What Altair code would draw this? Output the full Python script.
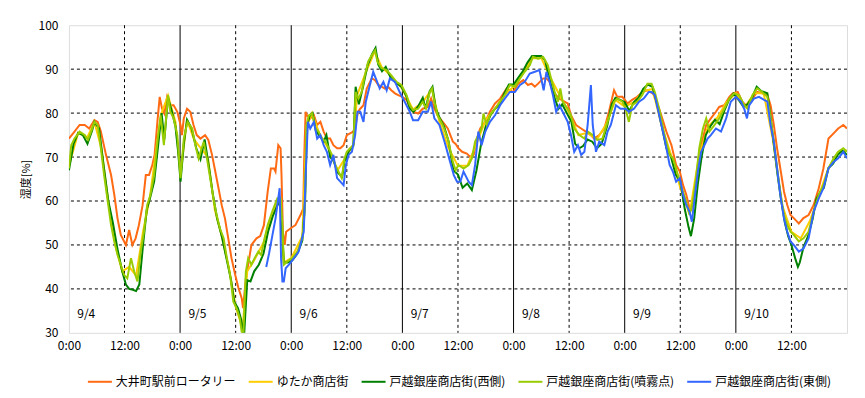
import altair as alt
import pandas as pd

series_names = ["大井町駅前ロータリー", "ゆたか商店街", "戸越銀座商店街(西側)",
                "戸越銀座商店街(噴霧点)", "戸越銀座商店街(東側)"]
series_colors = ["#FF6A13", "#FFCC00", "#008000", "#99CC00", "#3366FF"]

# 大井町駅前ロータリー (hour, %)
orange = [(0, 74.2), (1.2, 75.8), (2.3, 77.3), (3.4, 77.3), (4.4, 76.5), (5.5, 78.4), (6.2, 78), (6.9, 75.8),
          (8, 70.5), (9.1, 65.9), (9.8, 61.4), (10.5, 56), (11.2, 52.3), (12.3, 50), (13, 53.4), (13.7, 50),
          (14.4, 51.5), (15.1, 54.5), (15.9, 59), (16.6, 65.9), (17.3, 65.9), (18, 68.2), (18.5, 70.5),
          (19.1, 78), (19.6, 83.7), (20.1, 81), (20.6, 79.9), (21.2, 83.7), (21.9, 81.8), (22.6, 81.8),
          (23.4, 80.3), (24.1, 77.3), (24.4, 75), (24.8, 78.8), (25.5, 81), (26.2, 80.3), (26.9, 77.3),
          (27.6, 75), (28.4, 74.2), (29.4, 75), (30.1, 73.9), (30.9, 70.5), (31.6, 66.7), (32.3, 62.9),
          (33, 59), (33.7, 56), (34.4, 51.5), (35.1, 47), (35.9, 43.2), (36.6, 40.2), (37.3, 37.9),
          (37.6, 35.6), (38.2, 42.4), (38.7, 45.5), (39.4, 50), (40.5, 51.5), (41.3, 52), (42.1, 54.5),
          (42.9, 62), (43.6, 67.4), (44.3, 67.4), (44.6, 66.7), (45.2, 72.7), (45.7, 72), (45.9, 65.9),
          (46.2, 53), (46.6, 50), (46.9, 53), (47.9, 53.8), (48.9, 54.5), (50, 56.8), (50.6, 58.3),
          (50.8, 69.7), (51.1, 80.3), (51.4, 79.5), (52.1, 78.8), (52.9, 79.5), (53.6, 77.3), (54.3, 78),
          (55, 75.8), (55.7, 74.2), (56.4, 74.2), (57.1, 72.7), (57.9, 72), (58.6, 72), (59.3, 72.7),
          (60, 75), (60.7, 75.4), (61.4, 75.8), (61.9, 77.3), (62.4, 80.3), (62.9, 81), (63.6, 81.8),
          (64.3, 85.6), (65.4, 87.9), (66.1, 87.5), (66.8, 86.4), (67.5, 86), (68.2, 85.6), (68.9, 86),
          (69.6, 85.2), (70.4, 84.5), (71.1, 84.1), (72, 83.7), (72.9, 83), (73.6, 81.4), (74.3, 80.3),
          (75.4, 79.9), (76.4, 81), (77.5, 81.4), (78.2, 83.3), (78.9, 81), (79.6, 79.5), (80.7, 78),
          (81.8, 76.5), (82.9, 73.5), (83.5, 73), (84.1, 72), (84.9, 71.2), (85.9, 70.8), (86.6, 70.1),
          (87.4, 70.5), (88.1, 74.2), (88.8, 76.5), (89.9, 78), (90.9, 80.3), (92, 82.2), (93.1, 83.3),
          (94.5, 85.6), (95.9, 84.8), (97, 86.7), (98.1, 87.5), (99.1, 86.4), (99.9, 86.7), (100.6, 86),
          (101.3, 86.7), (102.4, 87.9), (103.1, 87.9), (103.8, 87.1), (104.5, 84.8), (105.2, 84.1),
          (105.9, 83.3), (107, 82.6), (107.7, 82.2), (108.4, 79.5), (109.5, 77.3), (110.6, 76.5),
          (111.6, 75.8), (112.7, 75), (113.4, 74.2), (114.5, 75), (115.6, 76.5), (116.6, 80.3),
          (117.7, 85.2), (118.4, 83.7), (119.5, 83.7), (120.6, 82.2), (121.6, 83), (122.7, 83.7),
          (123.8, 84.8), (124.9, 85.2), (125.5, 84.8), (126.1, 84.5), (126.9, 82.6), (127.9, 79.5),
          (129, 75.8), (130.1, 72.7), (131.1, 68.2), (131.9, 66.7), (132.6, 63.6), (133.3, 61.4),
          (134, 58.3), (134.4, 58), (135.1, 62.1), (135.8, 67.4), (136.5, 72.7), (137.6, 77.3),
          (138.6, 78.8), (139.7, 80.3), (140.4, 81.4), (141.5, 81.8), (142.6, 83.7), (143.3, 84.5),
          (144.4, 84.8), (145.4, 82.6), (146.5, 81.4), (147.6, 83.3), (148.6, 84.8), (149.7, 84.5),
          (150.8, 84.1), (151.5, 81.8), (152.2, 77.3), (152.9, 72), (153.6, 67.4), (154.4, 62.1),
          (155.1, 59.1), (155.8, 56.8), (156.5, 56.1), (157.6, 54.9), (158.6, 56.1), (159.7, 56.8),
          (160.8, 59.1), (161.9, 62.9), (162.9, 67.4), (164, 74.2), (165.1, 75.4), (166.1, 76.5),
          (167.2, 77.3), (168, 76.5)]

# ゆたか商店街
yellow = [(0, 68), (2, 75.5), (4, 74.5), (5.5, 78), (7, 72), (8.5, 60), (10, 50), (11.5, 44), (13, 45),
          (14.5, 43), (16, 53), (17.5, 61), (19, 73), (20, 80), (21.4, 84), (23, 78), (24.1, 66),
          (25.5, 78.5), (27, 74), (28.5, 72), (30, 70), (31.5, 58), (33, 52), (34.5, 45), (36, 36),
          (37.5, 31), (38.5, 44), (40, 46.5), (42, 50.5), (44, 57.5), (45.6, 61), (46.4, 46), (48, 47),
          (50.4, 52), (51.3, 77), (52.5, 80), (54, 75.5), (56, 72), (58, 67), (59.5, 69.5), (61.5, 73),
          (62.2, 84), (64, 89), (66, 94), (67.5, 90.5), (69.5, 88.5), (72, 85.5), (74.3, 80.8),
          (76.4, 82.5), (78.4, 85.5), (80, 78), (82, 72), (84, 68), (86, 68), (88, 73), (90, 78.5),
          (92, 81), (94, 84), (96, 86), (98, 89), (100, 92.5), (102, 92.5), (104, 88), (106, 84),
          (108, 80), (110, 75), (112, 75.5), (114, 74), (116, 77.5), (118, 83), (120, 81.5),
          (122, 82.5), (124, 85), (126, 85.5), (128, 77), (130, 70.5), (132, 63), (134, 57), (136, 70),
          (138, 77), (140, 79), (142, 82.5), (144, 84.5), (146, 81.5), (148, 84.5), (150, 84.5),
          (152, 74), (154, 59), (156, 53), (158, 51.5), (160, 55.5), (162, 61.5), (164, 67.5),
          (166, 71), (168, 71.5)]

# 戸越銀座商店街(西側)
dgreen = [(0, 67), (1, 73), (2, 75.5), (3, 75), (4, 73), (5, 76), (5.5, 78), (6.5, 76.5), (7.5, 68),
          (8.5, 60), (9.5, 55), (10.5, 49), (11.5, 44), (12.3, 41), (13, 40), (13.8, 39.8), (14.5, 39.5),
          (15.2, 41), (16, 50), (16.8, 58), (17.6, 61), (18.4, 64.4), (19.2, 72), (20, 80), (20.6, 74),
          (21.4, 83.5), (22.2, 80.5), (23, 77), (23.6, 71), (24.1, 64.4), (24.8, 73), (25.5, 78.5),
          (26.5, 76.5), (27.5, 72), (28.4, 69.5), (29.3, 74), (30.2, 68), (31, 62), (32, 56), (33, 52),
          (34, 47), (35, 42), (35.7, 37), (36.5, 35.6), (37.2, 33), (37.8, 29), (38.5, 42), (39.2, 41.7),
          (40, 44), (41, 45.5), (42, 48), (43, 53), (44, 56.5), (45, 59), (45.6, 60), (46, 54), (46.4, 46),
          (47.2, 46), (48.2, 46.5), (49.3, 48), (50.4, 51), (51, 60), (51.4, 77), (52, 79.5), (52.6, 80),
          (53.3, 76), (54, 75), (55, 73.5), (55.6, 75), (56.4, 70), (57.2, 69), (58, 66.5), (59, 65.5),
          (59.5, 69), (60.5, 71.5), (61.4, 72.5), (61.9, 86), (62.6, 82), (63.5, 86), (64.5, 91),
          (65.5, 93.5), (66.2, 94.8), (66.8, 91), (67.6, 89.5), (68.4, 90.5), (69.5, 88), (70.5, 87),
          (71.8, 86), (72.8, 84), (73.6, 81), (74.4, 80.3), (75.4, 81.5), (76.4, 83.5), (77, 81),
          (77.9, 85), (78.5, 86), (79.2, 81), (80, 79), (81, 77), (82, 73.5), (83, 67), (84, 66),
          (85, 63), (86, 64), (87, 62.5), (88, 67), (89, 73), (90, 77), (91, 79.5), (92, 81), (93, 82),
          (94, 84.5), (95, 86.5), (96, 86.5), (97, 88), (98, 89.5), (99, 91.5), (100, 93), (101, 93),
          (102, 93), (102.8, 92), (103.5, 89), (104.2, 86), (105, 83), (105.7, 81), (106.5, 82),
          (107.5, 80), (108.5, 78), (109.3, 73), (110.2, 72), (111, 72.5), (112, 74), (113, 73.5),
          (114, 72), (115, 73), (116.2, 77), (117.2, 82), (118, 83.5), (119, 83), (120, 82.5),
          (121, 80.5), (122, 82.5), (123, 83.5), (124, 85.5), (125, 86.5), (126, 86), (127, 82),
          (128, 77), (129, 72), (130, 70), (131, 66), (132, 64.5), (133, 58), (133.8, 54), (134.3, 52),
          (135, 56), (135.8, 64), (136.6, 70), (137.5, 75), (138.5, 77), (139.5, 78.5), (140.5, 77.5),
          (141.5, 80.5), (142.5, 83), (143.5, 84.5), (144.6, 83), (145.6, 81.5), (146.5, 82),
          (147.5, 83.5), (148.5, 86), (149.5, 85), (150.8, 84.5), (151.5, 79), (152.3, 72), (153, 66),
          (153.8, 60), (154.6, 55), (155.3, 52), (156, 50), (156.8, 47), (157.4, 45), (157.8, 46),
          (158.6, 49.5), (159.6, 52), (160.6, 56), (161.4, 60.5), (162.2, 62), (163, 63), (164, 67.5),
          (165, 68.5), (166, 70.5), (167, 71.5), (168, 70.5)]

# 戸越銀座商店街(噴霧点)
lgreen = [(0, 67.4), (0.5, 72.7), (1.2, 74.2), (2.3, 75.8), (3.4, 75), (4.1, 73.9), (4.8, 75.8), (5.5, 78),
          (6.2, 77.3), (6.9, 72), (7.6, 65.9), (8.4, 59.8), (9.1, 54.5), (9.8, 50.8), (10.5, 47.7),
          (11.2, 45.5), (11.9, 43.2), (12.6, 42.4), (13.4, 47), (14.1, 43.9), (14.8, 41.7), (15.5, 48.5),
          (16.2, 53), (16.9, 59.1), (17.6, 61.4), (18.4, 65.9), (19.1, 73.5), (19.8, 79.5), (20.5, 72.7),
          (21.4, 84.1), (21.9, 80.3), (22.6, 78.8), (23.4, 75), (24.1, 65.2), (24.8, 74.2), (25.6, 78),
          (26.6, 76.5), (27.3, 72.7), (28, 69.7), (29.1, 73.5), (29.8, 69.7), (30.5, 65.2), (31.2, 60.6),
          (31.9, 56.8), (32.6, 53.8), (33.4, 51.5), (34.1, 47), (34.8, 43.2), (35.5, 37.1), (36.2, 35.6),
          (36.9, 33.3), (37.6, 28), (38.2, 43.9), (38.7, 47), (39.4, 45.5), (40.1, 47), (40.9, 48.5),
          (41.5, 47.7), (42.1, 50.8), (42.9, 54.5), (43.9, 57.6), (45, 60.6), (45.7, 60.6), (46.1, 54.5),
          (46.4, 45.5), (47.1, 46.2), (48.2, 47), (49.3, 48.5), (50.4, 51.5), (50.9, 57.6), (51.3, 77.3),
          (51.8, 79.5), (52.5, 79.9), (53.2, 76.5), (53.9, 75.8), (54.6, 74.2), (55.4, 73.5), (56.1, 72),
          (56.8, 70.5), (57.5, 68.2), (58.2, 66.7), (58.9, 65.2), (59.5, 69.7), (60, 71.2), (60.7, 72),
          (61.4, 72.7), (61.9, 84.8), (62.5, 83.3), (63.2, 84.8), (63.9, 88.6), (64.6, 91.7),
          (65.4, 93.2), (66.1, 94.3), (66.6, 91.7), (67.5, 90.2), (68.6, 89.8), (69.6, 88.6),
          (70.7, 87.1), (71.8, 86.4), (72.9, 84.1), (73.6, 81.8), (74.3, 80.7), (75.4, 81), (76.4, 82.6),
          (77.1, 81), (77.9, 84.8), (78.4, 85.6), (78.9, 82.6), (79.6, 79.5), (80.7, 77.3), (81.8, 74.2),
          (82.9, 68.9), (83.5, 67), (84.1, 68.2), (85.2, 67.4), (86.3, 68.2), (87, 69.7), (87.7, 73.5),
          (88.4, 75), (89.1, 76.5), (89.5, 79.9), (90.2, 77.3), (90.9, 79.5), (92, 81), (93.1, 82.6),
          (94.1, 84.1), (95.2, 86.4), (96.3, 86), (97.4, 87.9), (98.4, 89.4), (99.5, 90.9), (100.2, 92.8),
          (101.3, 92.4), (102.4, 92.8), (103.4, 90.9), (104.1, 87.9), (104.9, 84.8), (105.6, 82.6),
          (106.1, 85.6), (106.6, 82.6), (107.7, 81), (108.4, 79.5), (109.1, 76.5), (110.2, 75),
          (111.3, 74.2), (112, 75.8), (113.1, 75), (114.1, 73.9), (115.2, 74.2), (116.3, 78), (117, 80.3),
          (117.7, 82.6), (118.4, 83.3), (119.5, 82.6), (120.2, 81), (120.9, 78), (121.6, 81.8),
          (122.7, 82.6), (123.8, 84.1), (124.9, 86.7), (125.8, 86.7), (126.5, 84.8), (127.6, 80.3),
          (128.6, 75), (129.7, 70.5), (130.4, 69.7), (131.1, 67.4), (131.9, 64.4), (132.6, 62.1),
          (133.3, 59.8), (134, 56.8), (134.7, 59.8), (135.4, 65.2), (136.1, 72), (136.9, 76.5),
          (137.6, 78.8), (138.3, 75.8), (139.4, 77.3), (140.4, 78.8), (141.5, 81), (142.6, 83.3),
          (143.6, 84.5), (144.7, 84.1), (145.8, 81.8), (146.5, 81), (147.6, 84.1), (148.6, 85.6),
          (149.7, 84.8), (150.8, 83.7), (151.5, 78.8), (152.2, 73.5), (152.9, 67.4), (153.6, 62.1),
          (154.4, 56.8), (155.1, 54.5), (155.8, 53), (156.5, 52.3), (157.6, 50.8), (158.6, 51.5),
          (159.7, 53), (160.8, 57.6), (161.9, 61.4), (162.9, 63.6), (164, 67.4), (165.1, 69.7),
          (166.1, 71.2), (167.2, 72), (168, 71.2)]

# 戸越銀座商店街(東側)
blue = [(42.6, 45), (43.2, 48), (43.9, 52), (44.6, 56), (45.2, 60.6), (45.5, 62.9), (45.8, 47), (46.1, 41.7),
        (46.4, 41.7), (46.8, 44.7), (47.5, 45.5), (48.6, 47), (49.6, 48.5), (50.7, 53), (51.2, 68.2),
        (51.6, 78), (52.1, 76.5), (52.9, 78), (53.6, 74.2), (54.3, 75), (55, 72.7), (55.7, 71.2),
        (56.4, 68.2), (57.1, 70.5), (57.9, 65.2), (58.6, 64.4), (59.3, 63.6), (59.8, 68.2), (60.4, 70.5),
        (61.1, 71.2), (61.8, 75), (62.3, 80.3), (62.9, 80.3), (63.6, 78), (64.1, 82.6), (64.8, 85.6),
        (65.7, 89.4), (66.4, 87.5), (67.1, 85.6), (67.9, 87.1), (68.6, 85.2), (69.3, 87.9), (70.4, 87.1),
        (71.4, 84.8), (72.5, 82.6), (73.6, 80.3), (74.3, 78.4), (75.4, 78.4), (76.4, 80.3), (77.5, 80.3),
        (78.2, 82.6), (78.9, 78.8), (80, 77.3), (81.1, 73.5), (82.1, 69.7), (83.1, 65.9), (83.8, 64.4),
        (84.5, 64.4), (85.2, 66.7), (86.3, 64.4), (87, 63.6), (87.7, 68.2), (88.4, 75.8), (89.1, 72.7),
        (89.9, 75.8), (90.9, 78), (92, 79.5), (93.1, 81.8), (94.1, 83.3), (95.2, 84.8), (96.3, 84.8),
        (97.4, 86.4), (98.4, 87.1), (99.5, 89), (100.6, 89.4), (101.6, 89.8), (102.5, 85.2), (103.1, 89.4),
        (103.8, 87.1), (104.5, 84.1), (105.2, 80.3), (105.9, 81.8), (106.6, 80.3), (107.7, 78),
        (108.4, 75), (109.1, 71.2), (109.9, 72.7), (110.6, 70.5), (111.3, 71.2), (112, 77.3),
        (112.7, 86.4), (113.1, 77.3), (113.8, 71.2), (114.5, 73.5), (115.6, 72.7), (116.3, 75.8),
        (117, 77.3), (118.1, 81.8), (119.1, 81), (120.2, 81), (120.9, 80.3), (122, 81), (123.1, 82.6),
        (124.1, 83.3), (125.2, 84.8), (125.8, 84.8), (126.5, 84.1), (127.6, 78.8), (128.6, 74.2),
        (129.7, 68.2), (130.4, 66.7), (131.1, 64.4), (131.9, 65.2), (132.6, 61.4), (133.3, 59.1),
        (134, 57.6), (134.5, 55.3), (135.1, 60.6), (135.8, 66.7), (136.5, 71.2), (137.2, 72.7),
        (137.9, 74.2), (138.6, 75), (139.7, 76.5), (140.8, 75.8), (141.9, 78.8), (142.9, 82.6),
        (144, 83.7), (145.1, 82.6), (145.8, 81), (146.4, 78.8), (146.9, 81.8), (147.9, 83.3),
        (149, 83.7), (150.1, 83), (150.8, 82.6), (151.5, 77.3), (152.2, 73.5), (152.9, 67.4),
        (153.6, 61.4), (154.4, 56), (155.1, 53), (155.8, 50.8), (156.5, 50), (157.6, 48.5),
        (158.6, 49.2), (159.7, 51.5), (160.8, 57.6), (161.9, 60.6), (162.9, 62.9), (164, 67.4),
        (165.1, 68.9), (166.1, 69.7), (167.2, 71.2), (168, 69.7)]

day_labels = ["9/4", "9/5", "9/6", "9/7", "9/8", "9/9", "9/10"]
day_label_hours = [1.8, 25.8, 49.8, 73.8, 97.8, 121.8, 145.8]
day_hours = [24, 48, 72, 96, 120, 144]
half_day_hours = [12, 36, 60, 84, 108, 132, 156]
y_grid = [40, 50, 60, 70, 80, 90]
x_ticks = list(range(0, 157, 12))
y_ticks = [30, 40, 50, 60, 70, 80, 90, 100]

rows = []
for name, pts in zip(series_names, [orange, yellow, dgreen, lgreen, blue]):
    for h, v in pts:
        rows.append({"series": name, "h": h, "v": v})
df = pd.DataFrame(rows)

FONT = "Noto Sans CJK JP"

x_scale = alt.Scale(domain=[0, 168], nice=False, zero=False)
y_scale = alt.Scale(domain=[30, 100], nice=False, zero=False)
x_axis = alt.Axis(values=x_ticks, title=None, grid=False, ticks=False, domain=False,
                  labelExpr="datum.value % 24 == 0 ? '0:00' : '12:00'",
                  labelFont=FONT, labelFontSize=12, labelColor="black", labelPadding=8,
                  labelFlush=False)
y_axis = alt.Axis(values=y_ticks, title="湿度[%]", grid=False, ticks=False, domain=False,
                  labelFont=FONT, labelFontSize=12, labelColor="black", labelPadding=11,
                  titleFont=FONT, titleFontSize=11, titleFontWeight="normal", titleColor="black",
                  titlePadding=6)

X = alt.X("h:Q", scale=x_scale, axis=x_axis)
Y = alt.Y("v:Q", scale=y_scale, axis=y_axis)

day_rules = alt.Chart(pd.DataFrame({"h": day_hours})).mark_rule(
    color="black", strokeWidth=1).encode(x=X)
half_rules = alt.Chart(pd.DataFrame({"h": half_day_hours})).mark_rule(
    color="black", strokeWidth=1, strokeDash=[3, 3]).encode(x=X)
h_rules = alt.Chart(pd.DataFrame({"v": y_grid})).mark_rule(
    color="black", strokeWidth=1, strokeDash=[3, 3]).encode(y=Y)

lines = alt.Chart(df).mark_line(strokeWidth=2, clip=True).encode(
    x=X, y=Y,
    color=alt.Color("series:N",
                    scale=alt.Scale(domain=series_names, range=series_colors),
                    sort=series_names,
                    legend=alt.Legend(orient="none", legendX=18, legendY=344, direction="horizontal",
                                      columns=5, title=None, symbolType="stroke",
                                      symbolStrokeWidth=2, symbolSize=576, labelFont=FONT,
                                      labelFontSize=12, labelColor="black", labelOffset=3,
                                      columnPadding=8, labelLimit=0, padding=0)),
    order=alt.Order("h:Q"),
)

labels = alt.Chart(pd.DataFrame({"h": day_label_hours, "v": [34.3] * 7, "t": day_labels})).mark_text(
    align="left", baseline="middle", font=FONT, fontSize=12, color="black").encode(
    x=X, y=Y, text="t:N")

chart = alt.layer(day_rules, half_rules, h_rules, lines, labels).properties(
    width=779, height=308,
    autosize=alt.AutoSizeParams(type="none"),
    padding={"left": 61, "top": 17, "right": 10, "bottom": 65},
).configure_view(stroke="black", strokeWidth=2).configure(background="white")

chart.save("out.html", embed_options={"renderer": "svg", "actions": False})
